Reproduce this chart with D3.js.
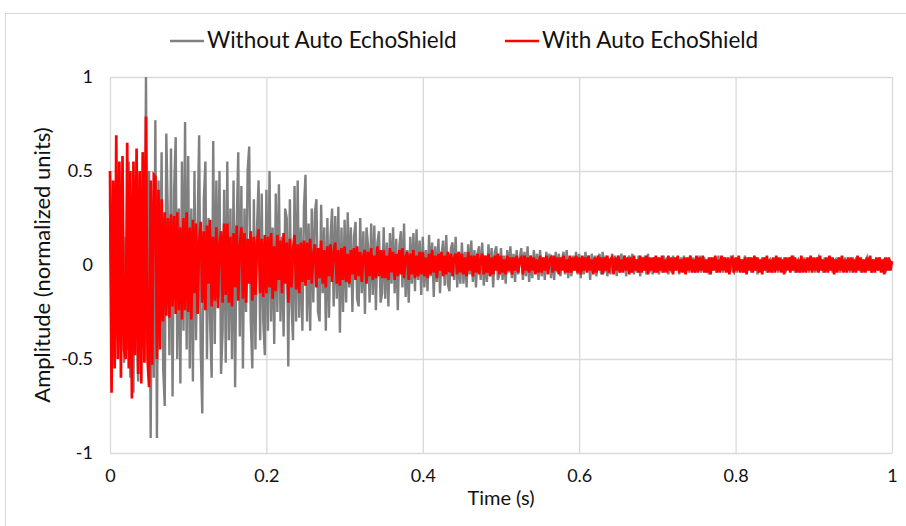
<!DOCTYPE html>
<html>
<head>
<meta charset="utf-8">
<script src="https://cdn.jsdelivr.net/npm/d3@7"></script>
<style>
  body { margin: 0; background: #fff; }
  svg text { font-family: Lato, "Noto Sans", sans-serif; fill: #111; }
</style>
</head>
<body>
<svg id="chart" width="906" height="526"></svg>
<script>
// sample spacing of the traces (seconds)
const sampleStep = 0.002;

// amplitude without Auto EchoShield, one row per 0.05 s
const withoutShield = [
  .35,-.3,.42,-.48,.2,-.38,.5,-.25,.4,-.52,.15,-.45,.55,-.6,.3,-.68,.45,-.2,-.62,.48,-.35,.6,-.5,1.0,-.4,
  .5,-.92,.3,-.6,.77,-.92,.45,-.2,.6,-.55,-.75,.7,.25,-.48,.62,-.7,.4,.68,-.5,.3,-.63,.55,-.35,.76,-.45,
  .58,-.55,.3,-.62,.5,-.4,.2,.69,-.45,-.79,.35,.55,-.5,.25,-.3,-.6,.66,-.42,.45,-.2,.5,-.58,-.35,.4,-.52,
  .55,-.4,.3,-.5,.45,-.65,.2,.6,-.38,.42,-.55,.3,-.25,.5,.63,-.3,-.55,.35,-.45,.2,.45,-.4,.38,-.3,-.48,
  .4,-.35,.5,-.3,.2,-.42,.38,-.25,.43,-.3,.15,-.38,.3,.25,-.54,.35,-.2,-.4,.42,-.3,.45,-.28,.2,-.35,.3,
  .48,-.3,.22,-.35,.3,-.2,.28,.35,-.25,-.3,.32,-.15,.2,-.35,.25,-.28,.15,.3,-.22,.26,-.18,.31,-.36,.2,-.25,
  .24,-.2,.28,-.12,.2,-.25,.15,.23,-.18,-.22,.25,-.15,.18,-.26,.2,.1,-.2,.22,-.16,.21,-.24,.12,.18,-.2,-.15,
  .2,-.18,.12,-.22,.17,-.1,.2,-.15,.14,-.24,.1,.18,-.12,.22,-.17,.08,-.2,.15,-.1,.17,-.14,.19,-.08,.13,-.16,
  .15,-.12,.08,-.14,.16,-.06,.12,-.17,.1,-.09,.14,-.15,.06,.13,-.11,.16,-.1,-.14,.09,.12,-.08,.15,-.12,.07,-.1,
  .12,-.1,.07,-.12,.11,-.05,.13,-.09,.08,-.12,.06,.1,-.08,.12,-.11,.05,-.09,.11,-.06,.09,-.12,.07,.1,-.08,-.05,
  .09,-.08,.05,-.1,.08,-.04,.1,-.07,.06,-.09,.08,-.05,.04,.09,-.08,.07,-.06,.1,-.09,.05,-.07,.08,-.04,.06,-.08,
  .08,-.06,.04,-.08,.07,-.03,.06,-.07,.05,-.08,.07,-.04,.06,-.06,.03,.07,-.05,.08,-.07,.04,-.06,.05,-.03,.07,-.05,
  .06,-.07,.04,-.05,.07,-.03,.05,-.08,.06,-.04,.05,-.06,.03,.06,-.05,.07,-.04,.05,-.06,.03,-.05,.06,-.04,.05,-.06,
  .05,-.04,.06,-.03,.05,-.06,.03,.05,-.04,.06,-.05,.03,-.04,.05,-.06,.04,-.03,.05,-.05,.06,-.04,.03,-.05,.04,-.04,
  .04,-.05,.03,-.04,.05,-.02,.04,-.05,.03,-.04,.05,-.03,.02,.04,-.05,.04,-.03,.05,-.04,.03,-.04,.05,-.02,.04,-.04,
  .04,-.03,.05,-.04,.02,.04,-.04,.03,-.05,.04,-.03,.02,.04,-.04,.05,-.03,.03,-.04,.04,-.02,.03,-.04,.05,-.03,-.04,
  .03,-.04,.04,-.02,.03,-.04,.05,-.03,.02,.04,-.04,.03,-.03,.04,-.05,.03,-.02,.04,-.03,.04,-.04,.02,.03,-.04,.03,
  -.03,.04,-.04,.02,.03,-.03,.04,-.04,.03,-.02,.04,-.03,.05,-.04,.02,.03,-.04,.03,-.03,.04,-.02,.03,-.04,.04,-.03,
  .03,-.04,.02,.04,-.03,.03,-.04,.04,-.02,.03,-.03,.04,-.04,.02,.03,-.03,.04,-.04,.03,-.02,.04,-.03,.03,-.04,.02,
  .03,-.03,.04,-.02,.03,-.04,.03,-.03,.02,.04,-.03,.03,-.04,.03,-.02,.03,-.03,.04,-.03,.02,.03,-.04,.03,-.03,.02,
  .01
];

// amplitude with Auto EchoShield
const withShield = [
  .5,-.68,.45,-.55,.69,-.5,.55,-.6,.58,-.45,-.5,.65,-.55,.5,-.71,.55,-.48,.62,-.58,.5,-.63,.6,-.52,.79,-.5,
  -.65,.45,-.53,.48,.47,-.5,.4,-.45,.35,-.3,.28,-.27,.25,-.28,.27,-.22,.26,-.26,.28,-.24,.2,-.29,.25,-.24,.28,
  -.25,.2,-.29,.24,-.15,.22,-.26,.12,.23,-.2,.18,-.24,.21,-.1,.24,-.22,.15,-.19,.2,-.23,.12,.18,-.2,.22,-.16,
  .22,-.2,.15,-.22,.17,-.12,.21,-.19,.1,.2,-.18,.17,-.2,.14,-.1,.18,-.19,.15,-.16,.12,.19,-.15,.14,-.17,.16,
  -.15,.15,-.12,.17,-.18,.1,-.14,.16,-.08,.13,-.15,.17,-.1,.12,-.2,.14,-.12,.08,.16,-.13,.11,-.15,.12,-.09,.13,
  -.11,.12,-.08,.14,-.1,.06,.11,-.12,.09,-.07,.13,-.1,.08,-.12,.1,-.06,.11,-.09,.07,.12,-.1,.08,-.11,.09,-.08,
  .1,-.09,.06,-.1,.08,-.05,.09,-.08,.1,-.06,.07,-.09,.05,.08,-.1,.07,-.06,.09,-.08,.05,-.07,.1,-.06,.08,-.07,
  .08,-.07,.05,-.08,.09,-.04,.07,-.08,.06,-.06,.08,-.05,.09,-.07,.04,.07,-.08,.06,-.05,.08,-.07,.05,-.06,.07,-.05,
  .07,-.06,.04,-.07,.06,-.05,.08,-.04,.05,-.07,.06,-.03,.07,-.06,.05,-.05,.07,-.04,.06,-.06,.04,.06,-.05,.07,-.04,
  .06,-.05,.04,-.06,.07,-.03,.05,-.06,.05,-.04,.06,-.05,.03,.06,-.05,.05,-.04,.06,-.06,.04,-.05,.05,-.03,.06,-.05,
  .05,-.04,.03,-.05,.05,-.03,.04,-.05,.04,-.03,.05,-.04,.03,.04,-.05,.05,-.03,.04,-.04,.05,-.03,.04,-.05,.03,-.04,
  .05,-.04,.04,-.03,.05,-.05,.03,.04,-.04,.05,-.03,.04,-.05,.04,-.03,.05,-.04,.03,-.04,.05,-.04,.04,-.03,.05,-.04,
  .04,-.05,.05,-.03,.04,-.04,.05,-.03,.03,-.05,.04,-.04,.05,-.03,.04,-.05,.04,-.03,.05,-.04,.03,.04,-.05,.04,-.03,
  .05,-.04,.03,-.04,.05,-.03,.04,-.05,.04,-.04,.05,-.03,.03,-.04,.05,-.04,.04,-.03,.05,-.05,.04,-.03,.04,-.04,.05,
  -.04,.04,-.03,.05,-.04,.03,-.04,.05,-.03,.04,-.05,.04,-.03,.05,-.04,.03,-.04,.04,-.05,.04,-.03,.05,-.04,.03,-.04,
  .05,-.04,.04,-.03,.05,-.04,.03,-.04,.04,-.05,.04,-.03,.05,-.04,.03,-.04,.05,-.03,.04,-.04,.04,-.05,.03,.04,-.04,
  .04,-.03,.05,-.04,.03,-.04,.04,-.05,.04,-.03,.04,-.04,.05,-.03,.04,-.04,.03,-.05,.04,-.03,.05,-.04,.03,-.04,.04,
  -.04,.05,-.03,.04,-.04,.03,-.05,.04,-.03,.04,-.04,.05,-.03,.04,-.04,.03,-.04,.05,-.04,.03,-.04,.04,-.03,.05,-.04,
  .04,-.03,.04,-.04,.05,-.03,.03,-.04,.04,-.04,.05,-.03,.04,-.05,.03,-.04,.04,-.03,.05,-.04,.03,-.04,.04,-.03,.04,
  -.04,.03,-.04,.05,-.03,.04,-.04,.03,-.04,.04,-.03,.05,-.04,.03,-.04,.04,-.03,.04,-.04,.03,-.05,.04,-.03,.04,-.03,
  .02
];

const xTicks = [0, 0.2, 0.4, 0.6, 0.8, 1];
const yTicks = [-1, -0.5, 0, 0.5, 1];
const seriesNames = ["Without Auto EchoShield", "With Auto EchoShield"];
const seriesColors = ["#808080", "#ff0000"];
const seriesWidths = [2.4, 2.7];

const svg = d3.select("#chart");
const margin = { top: 77, right: 14, bottom: 73, left: 110 };
const width = 906 - margin.left - margin.right;
const height = 526 - margin.top - margin.bottom;

// outer chart frame
svg.append("rect")
    .attr("x", 5.5).attr("y", 13.5)
    .attr("width", 1000).attr("height", 1000)
    .attr("fill", "none").attr("stroke", "#d9d9d9");

const g = svg.append("g")
    .attr("transform", `translate(${margin.left}, ${margin.top})`);

const x = d3.scaleLinear().domain([0, 1]).range([0, width]);
const y = d3.scaleLinear().domain([-1, 1]).range([height, 0]);

// gridlines
g.append("g")
    .attr("transform", `translate(0, ${height})`)
    .call(d3.axisBottom(x).tickValues(xTicks).tickSize(-height).tickFormat(""))
    .call(a => a.select(".domain").remove())
    .call(a => a.selectAll("line").attr("stroke", "#d9d9d9").attr("stroke-width", 1.3));

g.append("g")
    .call(d3.axisLeft(y).tickValues(yTicks).tickSize(-width).tickFormat(""))
    .call(a => a.select(".domain").remove())
    .call(a => a.selectAll("line").attr("stroke", "#d9d9d9").attr("stroke-width", 1.3));

// traces
const line = d3.line()
    .x((d, i) => x(i * sampleStep))
    .y(d => y(d));

[withoutShield, withShield].forEach((values, k) => {
    g.append("path")
        .datum(values)
        .attr("fill", "none")
        .attr("stroke", seriesColors[k])
        .attr("stroke-width", seriesWidths[k])
        .attr("d", line);
});

// tick labels
g.append("g")
    .attr("transform", `translate(0, ${height})`)
    .call(d3.axisBottom(x).tickValues(xTicks).tickSize(0).tickPadding(16).tickFormat(d => String(d)))
    .call(a => a.select(".domain").remove())
    .call(a => a.selectAll("text").style("font-size", "18px"));

g.append("g")
    .call(d3.axisLeft(y).tickValues(yTicks).tickSize(0).tickPadding(17).tickFormat(d => String(d)))
    .call(a => a.select(".domain").remove())
    .call(a => a.selectAll("text").style("font-size", "18px"));

// axis titles
svg.append("text")
    .attr("x", margin.left + width / 2)
    .attr("y", 505)
    .attr("text-anchor", "middle")
    .style("font-size", "20px")
    .text("Time (s)");

svg.append("text")
    .attr("transform", `translate(50, ${margin.top + height / 2}) rotate(-90)`)
    .attr("text-anchor", "middle")
    .style("font-size", "22px")
    .text("Amplitude (normalized units)");

// legend
const legendItems = [{ x: 170, w: 34 }, { x: 505, w: 34 }];
legendItems.forEach((item, k) => {
    svg.append("line")
        .attr("x1", item.x).attr("x2", item.x + item.w)
        .attr("y1", 41).attr("y2", 41)
        .attr("stroke", seriesColors[k]).attr("stroke-width", 2.5);
    svg.append("text")
        .attr("x", item.x + item.w + 3)
        .attr("y", 48)
        .style("font-size", "22.5px")
        .text(seriesNames[k]);
});
</script>
</body>
</html>
